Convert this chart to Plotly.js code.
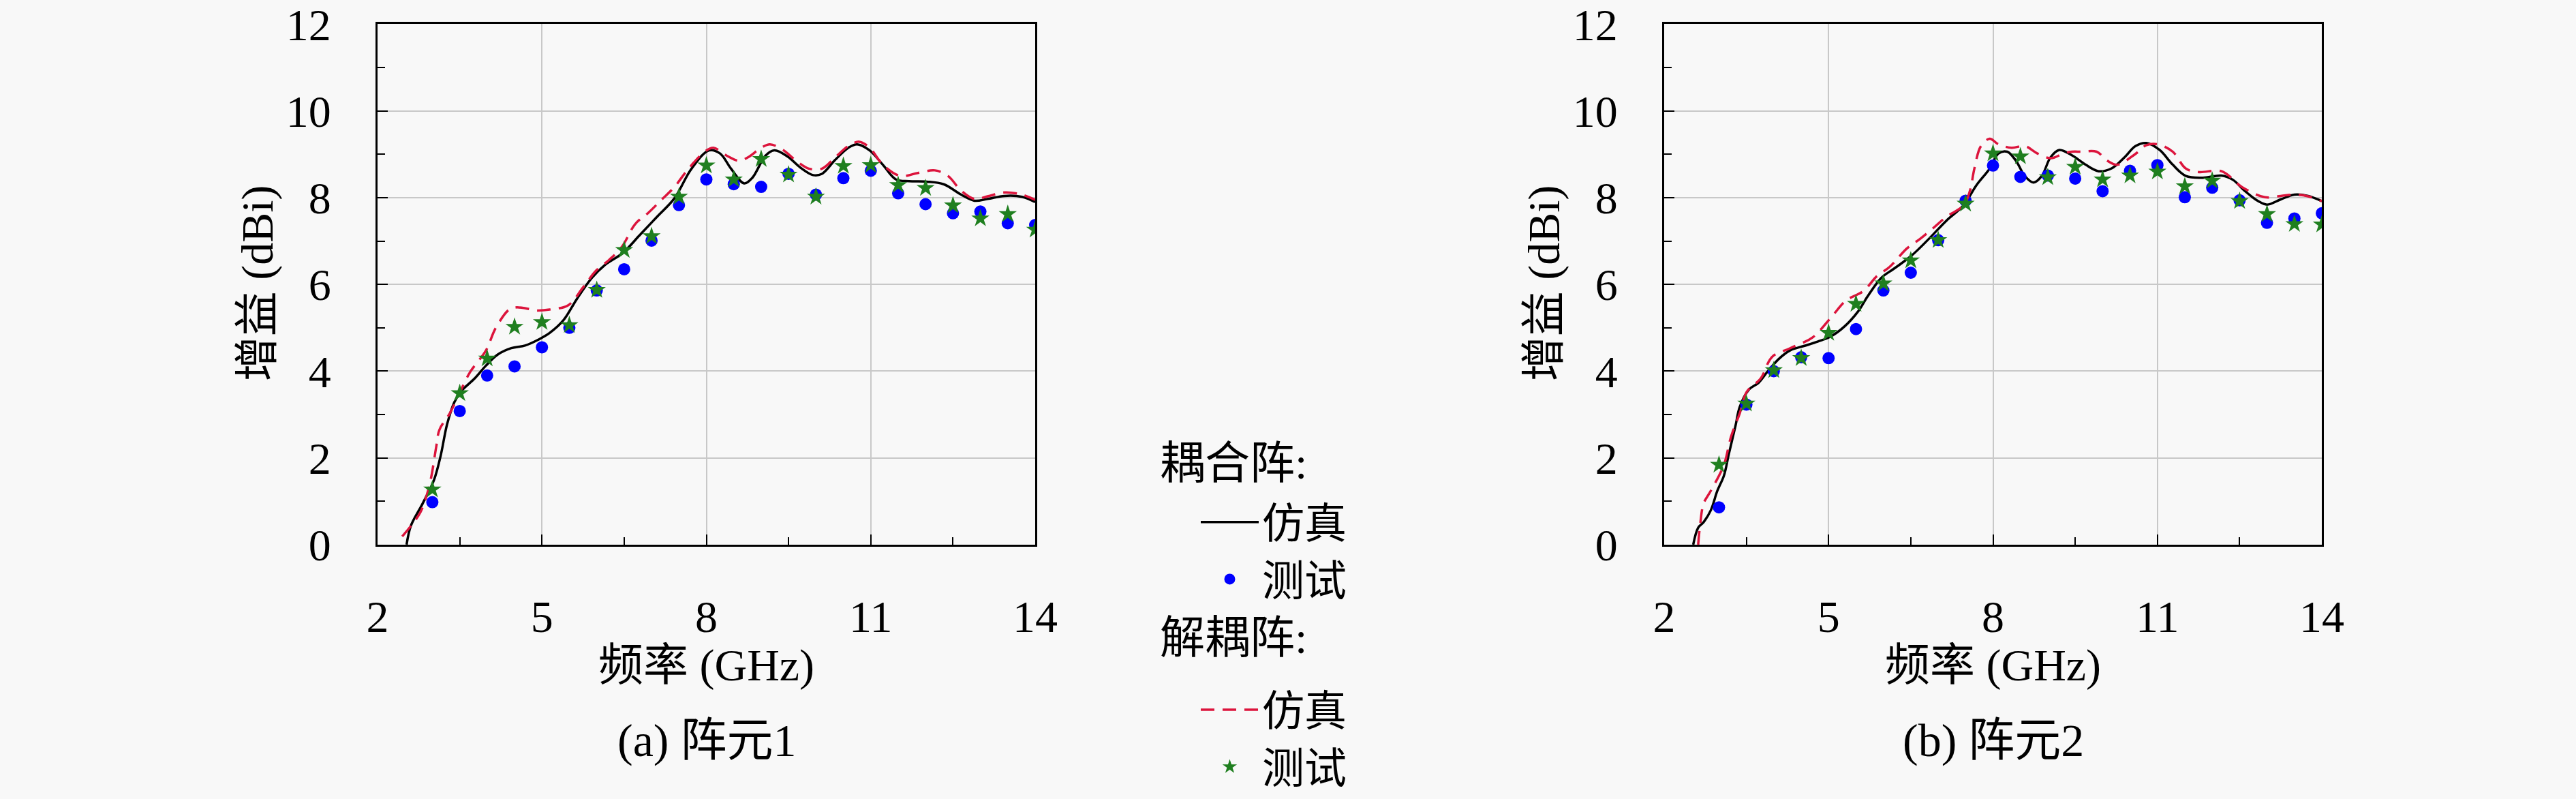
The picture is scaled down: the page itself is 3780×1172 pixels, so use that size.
<!DOCTYPE html>
<html>
<head>
<meta charset="utf-8">
<script src="https://cdn.plot.ly/plotly-3.0.1.min.js"></script>
<style>html,body{margin:0;padding:0;background:#f8f8f8;}</style>
</head>
<body>
<div id="chart" style="width:3780px;height:1172px;"></div>
<script>
// ---------- Data ----------
// (a) element 1
const a_simCoupled_f = [2.53, 2.61, 2.82, 3.03, 3.15, 3.27, 3.40, 3.52, 3.77, 3.98, 4.19, 4.44, 4.69, 4.94, 5.14, 5.39, 5.64, 5.91, 6.15, 6.47, 6.78, 7.10, 7.42, 7.73, 8.05, 8.25, 8.45, 8.69, 8.84, 9.08, 9.24, 9.48, 9.72, 9.95, 10.11, 10.35, 10.59, 10.75, 10.98, 11.22, 11.46, 11.70, 12.02, 12.33, 12.65, 12.89, 13.13, 13.44, 13.76, 14.0];
const a_simCoupled_g = [0, 0.44, 0.94, 1.49, 2.04, 2.78, 3.28, 3.53, 3.83, 4.13, 4.38, 4.53, 4.59, 4.73, 4.88, 5.17, 5.67, 6.15, 6.45, 6.72, 7.13, 7.56, 7.99, 8.67, 9.09, 9.02, 8.67, 8.33, 8.46, 8.97, 9.09, 8.95, 8.69, 8.52, 8.55, 8.87, 9.15, 9.23, 9.09, 8.76, 8.42, 8.38, 8.37, 8.31, 8.07, 7.93, 7.97, 8.04, 8.02, 7.90];
const a_simDecoupled_f = [2.45, 2.62, 2.78, 2.90, 2.98, 3.07, 3.13, 3.32, 3.49, 3.69, 3.98, 4.15, 4.40, 4.52, 4.70, 4.90, 5.14, 5.48, 5.75, 5.99, 6.23, 6.46, 6.70, 6.94, 7.18, 7.42, 7.65, 7.97, 8.13, 8.37, 8.60, 8.76, 9.00, 9.16, 9.40, 9.64, 9.87, 10.11, 10.35, 10.59, 10.79, 10.98, 11.22, 11.54, 11.86, 12.17, 12.41, 12.65, 12.89, 13.13, 13.44, 13.76, 14.0];
const a_simDecoupled_g = [0.19, 0.45, 0.74, 1.15, 1.56, 2.25, 2.65, 3.03, 3.48, 3.98, 4.48, 4.98, 5.42, 5.47, 5.45, 5.40, 5.42, 5.52, 5.93, 6.32, 6.57, 6.87, 7.39, 7.65, 7.95, 8.25, 8.63, 9.06, 9.15, 8.97, 8.85, 8.93, 9.15, 9.23, 9.10, 8.85, 8.67, 8.67, 8.93, 9.19, 9.29, 9.15, 8.76, 8.50, 8.57, 8.63, 8.50, 8.16, 7.97, 8.03, 8.12, 8.07, 7.95];
const meas_f = [3.0, 3.5, 4.0, 4.5, 5.0, 5.5, 6.0, 6.5, 7.0, 7.5, 8.0, 8.5, 9.0, 9.5, 10.0, 10.5, 11.0, 11.5, 12.0, 12.5, 13.0, 13.5, 14.0];
const a_measCoupled_g = [0.98, 3.08, 3.90, 4.11, 4.55, 5.00, 5.86, 6.35, 7.01, 7.83, 8.42, 8.31, 8.25, 8.55, 8.07, 8.45, 8.62, 8.10, 7.85, 7.64, 7.68, 7.41, 7.37];
const a_measDecoupled_g = [1.27, 3.49, 4.29, 5.02, 5.13, 5.06, 5.87, 6.79, 7.11, 8.02, 8.74, 8.42, 8.89, 8.53, 8.02, 8.73, 8.75, 8.29, 8.22, 7.82, 7.52, 7.62, 7.26];

// (b) element 2
const b_simCoupled_f = [2.53, 2.62, 2.72, 2.85, 2.97, 3.09, 3.18, 3.30, 3.38, 3.55, 3.72, 3.88, 4.09, 4.30, 4.55, 4.80, 5.04, 5.29, 5.54, 5.71, 5.96, 6.19, 6.51, 6.83, 7.15, 7.46, 7.70, 7.94, 8.10, 8.26, 8.42, 8.58, 8.74, 8.89, 9.05, 9.21, 9.45, 9.69, 9.93, 10.17, 10.40, 10.60, 10.80, 11.04, 11.28, 11.52, 11.83, 12.17, 12.38, 12.59, 12.84, 13.0, 13.25, 13.5, 13.75, 14.0];
const b_simCoupled_g = [0, 0.39, 0.52, 0.79, 1.24, 1.59, 2.09, 2.73, 3.18, 3.58, 3.73, 3.98, 4.28, 4.48, 4.58, 4.68, 4.80, 5.03, 5.38, 5.72, 6.15, 6.36, 6.66, 7.05, 7.47, 7.82, 8.29, 8.67, 9.02, 9.06, 8.85, 8.50, 8.35, 8.50, 8.93, 9.10, 8.97, 8.76, 8.61, 8.68, 8.93, 9.19, 9.26, 9.10, 8.76, 8.50, 8.46, 8.51, 8.41, 8.16, 7.92, 7.84, 7.96, 8.07, 8.04, 7.92];
const b_simDecoupled_f = [2.62, 2.66, 2.72, 2.85, 3.09, 3.22, 3.38, 3.51, 3.76, 3.97, 4.30, 4.71, 5.04, 5.32, 5.64, 5.88, 6.11, 6.43, 6.67, 6.91, 7.15, 7.46, 7.58, 7.66, 7.78, 7.94, 8.10, 8.34, 8.58, 8.81, 9.06, 9.29, 9.44, 9.61, 9.89, 10.09, 10.27, 10.60, 10.80, 11.01, 11.28, 11.52, 11.76, 12.17, 12.55, 12.96, 13.25, 13.5, 13.75, 14.0];
const b_simDecoupled_g = [0.0, 0.5, 0.95, 1.24, 1.84, 2.49, 3.03, 3.53, 3.83, 4.33, 4.53, 4.78, 5.23, 5.63, 5.85, 6.19, 6.40, 6.83, 7.05, 7.30, 7.56, 7.82, 8.16, 8.67, 9.19, 9.36, 9.23, 9.15, 9.19, 9.02, 8.91, 9.02, 9.06, 9.06, 9.06, 8.85, 8.76, 9.01, 9.21, 9.23, 9.06, 8.67, 8.59, 8.61, 8.24, 8.01, 8.04, 8.07, 8.03, 7.92];
const b_measCoupled_g = [0.86, 3.23, 4.00, 4.32, 4.30, 4.97, 5.86, 6.27, 7.02, 7.93, 8.74, 8.48, 8.51, 8.44, 8.15, 8.62, 8.75, 8.01, 8.23, 7.94, 7.42, 7.52, 7.64];
const b_measDecoupled_g = [1.84, 3.25, 4.02, 4.30, 4.88, 5.55, 6.02, 6.55, 7.02, 7.86, 9.02, 8.95, 8.47, 8.71, 8.42, 8.51, 8.60, 8.26, 8.39, 7.92, 7.62, 7.39, 7.38];

// Tick labels and texts
const xTicks = [2, 5, 8, 11, 14];
const yTicks = [0, 2, 4, 6, 8, 10, 12];
const groupCoupled = '耦合阵:';
const groupDecoupled = '解耦阵:';
const nameSim = '仿真';
const nameMeas = '测试';
const xTitle = '频率 (GHz)';
const yTitle = '增益 (dBi)';
const captions = ['(a) 阵元1', '(b) 阵元2'];

// ---------- Styles ----------
const FONT = 'Liberation Serif, Noto Sans CJK SC, serif';
const FS = 66;
const BG = '#f8f8f8';
const styleSimC = {color: '#000000', width: 3.5};
const styleSimD = {color: '#dc143c', width: 3.5, dash: '20px,12px'};
const markC = {symbol: 'circle', size: 18, color: '#0000ff'};
const markD = {symbol: 'star', size: 20, color: '#1f7f1f'};

function traces(fSc, gSc, fSd, gSd, gMc, gMd, xa, ya, show) {
  return [
    {x: fSc, y: gSc, xaxis: xa, yaxis: ya, mode: 'lines', line: Object.assign({shape: 'spline', smoothing: 1}, styleSimC),
     name: nameSim, legendgroup: 'c', showlegend: show},
    {x: meas_f, y: gMc, xaxis: xa, yaxis: ya, mode: 'markers', marker: markC,
     name: nameMeas, legendgroup: 'c', showlegend: show},
    {x: fSd, y: gSd, xaxis: xa, yaxis: ya, mode: 'lines', line: Object.assign({shape: 'spline', smoothing: 1}, styleSimD),
     name: nameSim, legendgroup: 'd', showlegend: show},
    {x: meas_f, y: gMd, xaxis: xa, yaxis: ya, mode: 'markers', marker: markD,
     name: nameMeas, legendgroup: 'd', showlegend: show}
  ];
}

const data = [].concat(
  traces(a_simCoupled_f, a_simCoupled_g, a_simDecoupled_f, a_simDecoupled_g, a_measCoupled_g, a_measDecoupled_g, 'x', 'y', true),
  traces(b_simCoupled_f, b_simCoupled_g, b_simDecoupled_f, b_simDecoupled_g, b_measCoupled_g, b_measDecoupled_g, 'x2', 'y2', false)
);

const W = 3780, H = 1172;
const xDomA = [554 / W, 1519 / W];
const xDomB = [2442 / W, 3407 / W];
const yDom = [(H - 833) / H, (H - 37) / H];

function xAxis(dom, anchor) {
  return {
    domain: dom, anchor: anchor, range: [2, 14], tickvals: xTicks, ticktext: xTicks.map(String),
    ticks: 'inside', ticklen: 15, tickwidth: 2, tickcolor: '#000',
    showline: true, linecolor: '#000', linewidth: 3, mirror: true,
    showgrid: true, gridcolor: '#c8c8c8', gridwidth: 2, zeroline: false,
    tickfont: {family: FONT, size: 66, color: '#000'}, ticklabelstandoff: 46, ticklabeloverflow: 'allow',
    minor: {tick0: 2, dtick: 1.5, ticks: 'inside', ticklen: 11, tickwidth: 2, tickcolor: '#000', showgrid: false}
  };
}
function yAxis(anchor) {
  return {
    domain: yDom, anchor: anchor, range: [0, 12], tickvals: yTicks, ticktext: yTicks.map(String),
    ticks: 'inside', ticklen: 15, tickwidth: 2, tickcolor: '#000',
    showline: true, linecolor: '#000', linewidth: 3, mirror: true,
    showgrid: true, gridcolor: '#c8c8c8', gridwidth: 2, zeroline: false,
    tickfont: {family: FONT, size: 66, color: '#000'}, ticklabelstandoff: 52, ticklabeloverflow: 'allow',
    minor: {dtick: 1, ticks: 'inside', ticklen: 11, tickwidth: 2, tickcolor: '#000', showgrid: false}
  };
}

const ann = [];
[[xDomA, 378], [xDomB, 2266]].forEach(function (p, i) {
  const cx = (p[0][0] + p[0][1]) / 2;
  ann.push({text: xTitle, x: cx, y: (H - 1018) / H, xref: 'paper', yref: 'paper', xanchor: 'center', yanchor: 'middle', showarrow: false, font: {family: FONT, size: FS, color: '#000'}});
  ann.push({text: captions[i], x: cx, y: (H - 1132) / H, xref: 'paper', yref: 'paper', xanchor: 'center', yanchor: 'middle', showarrow: false, font: {family: FONT, size: 68, color: '#000'}});
  ann.push({text: yTitle, x: p[1] / W, y: (H - 433) / H, xref: 'paper', yref: 'paper', xanchor: 'center', yanchor: 'middle', textangle: -90, showarrow: false, font: {family: FONT, size: FS, color: '#000'}});
});
ann.push({text: groupCoupled, x: 1700 / W, y: (H - 708) / H, xref: 'paper', yref: 'paper', xanchor: 'left', yanchor: 'middle', showarrow: false, font: {family: FONT, size: FS, color: '#000'}});
ann.push({text: groupDecoupled, x: 1700 / W, y: (H - 975) / H, xref: 'paper', yref: 'paper', xanchor: 'left', yanchor: 'middle', showarrow: false, font: {family: FONT, size: FS, color: '#000'}});

const layout = {
  width: W, height: H,
  margin: {l: 0, r: 0, t: 0, b: 0},
  paper_bgcolor: BG, plot_bgcolor: BG,
  font: {family: FONT, size: FS, color: '#000'},
  showlegend: true,
  legend: {
    x: 1757 / W, y: (H - 750) / H, xanchor: 'left', yanchor: 'top',
    bgcolor: 'rgba(0,0,0,0)', borderwidth: 0,
    font: {family: FONT, size: 62, color: '#000'},
    traceorder: 'grouped', tracegroupgap: 108, itemwidth: 85
  },
  xaxis: xAxis(xDomA, 'y'), yaxis: yAxis('x'),
  xaxis2: xAxis(xDomB, 'y2'), yaxis2: yAxis('x2'),
  annotations: ann
};

Plotly.newPlot('chart', data, layout, {displayModeBar: false, staticPlot: true});
</script>
</body>
</html>
